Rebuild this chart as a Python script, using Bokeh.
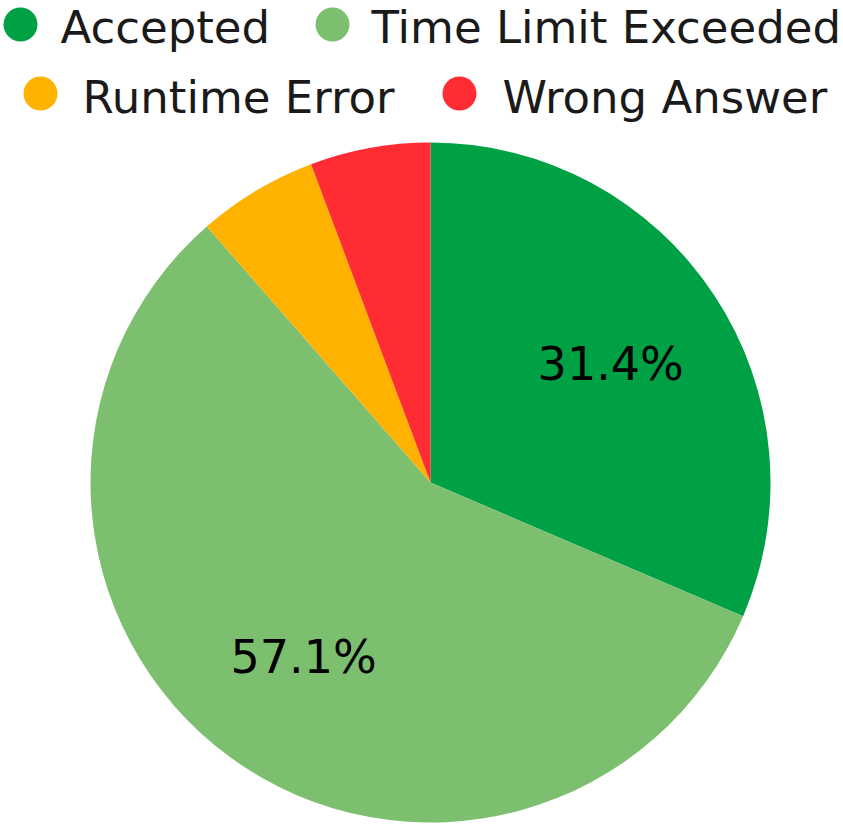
import math
from bokeh.plotting import figure
from bokeh.models import ColumnDataSource
from bokeh.core.properties import value
from bokeh.embed import file_html
from bokeh.resources import INLINE

categories = ["Accepted", "Time Limit Exceeded", "Runtime Error", "Wrong Answer"]
counts = [11, 20, 2, 2]
colors = ["#00a045", "#7bbf6f", "#ffb200", "#ff2d33"]

# layout (screen-pixel-like coordinates; y is negated)
W, H = 843, 827
cx, cy, R = 430, -482, 340
FONT = "DejaVu Sans"

total = sum(counts)
starts, ends, mids, labels = [], [], [], []
a = math.pi / 2
for c in counts:
    sweep = c / total * 2 * math.pi
    starts.append(a - sweep)
    ends.append(a)
    mids.append(a - sweep / 2)
    labels.append(f"{c / total * 100:.1f}%")
    a -= sweep

p = figure(width=W, height=H, output_backend="svg", toolbar_location=None,
           x_range=(0, W), y_range=(-H, 0), min_border=0,
           outline_line_color=None)
p.axis.visible = False
p.grid.visible = False
p.background_fill_color = "white"
p.border_fill_color = "white"

src = ColumnDataSource(dict(start=starts, end=ends, color=colors, cat=categories))
p.wedge(x=cx, y=cy, radius=R, start_angle="start", end_angle="end",
        fill_color="color", line_color=None, source=src)

# slice labels (only for larger slices)
lr = 0.635 * R
lx, ly, lt = [], [], []
for m, lab, c in zip(mids, labels, counts):
    if c / total >= 0.1:
        lx.append(cx + lr * math.cos(m))
        ly.append(cy + lr * math.sin(m))
        lt.append(lab)
p.text(x=lx, y=ly, text=lt, text_align="center", text_baseline="middle",
       text_font=value(FONT), text_font_size="46px", text_color="black")

# legend (two centred rows)
mx = [20, 332, 40, 459]
my = [-24, -24, -93, -93]
tx = [60, 371, 82, 502]
ty = [-27, -27, -97, -97]
p.scatter(x=mx, y=my, size=34, marker="circle", fill_color=colors, line_color=None)
p.text(x=tx, y=ty, text=categories, text_align="left", text_baseline="alphabetic",
       text_font=value(FONT), text_font_size="45px", text_color="#1a1a1a")

open("out.html", "w").write(file_html(p, INLINE))
